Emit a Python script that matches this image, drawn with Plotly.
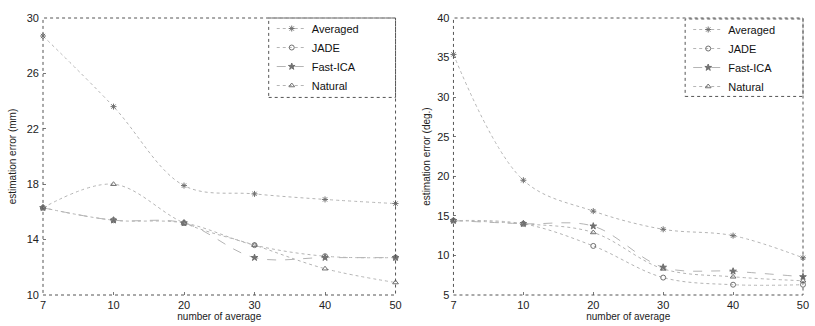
import plotly.graph_objects as go

# ---- data ----
x_labels = ["7", "10", "20", "30", "40", "50"]

# left panel: estimation error (mm)
mm_averaged = [28.7, 23.6, 17.9, 17.3, 16.9, 16.6]
mm_jade = [16.3, 15.4, 15.2, 13.6, 12.8, 12.7]
mm_fastica = [16.3, 15.4, 15.2, 12.7, 12.7, 12.7]
mm_natural = [16.3, 18.0, 15.2, 13.6, 11.9, 10.9]

# right panel: estimation error (deg.)
deg_averaged = [35.4, 19.5, 15.6, 13.3, 12.5, 9.7]
deg_jade = [14.4, 14.0, 11.2, 7.2, 6.3, 6.3]
deg_fastica = [14.4, 14.0, 13.7, 8.5, 8.0, 7.3]
deg_natural = [14.4, 14.0, 12.9, 8.3, 7.3, 6.8]

mm_ticks = [10, 14, 18, 22, 26, 30]
deg_ticks = [5, 10, 15, 20, 25, 30, 35, 40]

series_names = ["Averaged", "JADE", "Fast-ICA", "Natural"]

FONT = "Liberation Sans, Arial, sans-serif"
LINE_C = "#b4b4b4"
MARK_C = "#707070"

styles = {
    "Averaged": dict(dash="dot", symbol="asterisk-open"),
    "JADE": dict(dash="dot", symbol="circle-open"),
    "Fast-ICA": dict(dash="dash", symbol="star"),
    "Natural": dict(dash="dot", symbol="triangle-up-open"),
}

W, H = 815, 326
ML, MR, MT, MB = 42, 12, 16, 31
PW = W - ML - MR
PH = H - MT - MB


def xdom(px0, px1):
    return [(px0 - ML) / PW, (px1 - ML) / PW]


dom1 = xdom(42, 395)
dom2 = xdom(453, W - MR)

fig = go.Figure()

left = [mm_averaged, mm_jade, mm_fastica, mm_natural]
right = [deg_averaged, deg_jade, deg_fastica, deg_natural]

for xa, ya, data, leg in [("x", "y", left, "legend"), ("x2", "y2", right, "legend2")]:
    for name, ys in zip(series_names, data):
        st = styles[name]
        fig.add_trace(
            go.Scatter(
                x=x_labels, y=ys, name=name, mode="lines+markers", xaxis=xa, yaxis=ya,
                line=dict(color=LINE_C, width=1, dash=st["dash"], shape="spline", smoothing=1.0),
                marker=dict(symbol=st["symbol"], size=5, color=MARK_C,
                            line=dict(color=MARK_C, width=1)),
                cliponaxis=False, legend=leg,
            )
        )

axis_common = dict(
    showline=False, showgrid=False, zeroline=False, ticks="inside", ticklen=3,
    tickcolor="#777", tickfont=dict(family=FONT, size=11, color="#222"),
    title_font=dict(family=FONT, size=10, color="#222"),
)
x_common = dict(axis_common, type="category", categoryorder="array",
                categoryarray=x_labels, range=[0, 5], title_text="number of average",
                title_standoff=1, ticklabelstandoff=2, automargin=False)

fig.update_layout(
    xaxis=dict(x_common, domain=dom1, anchor="y"),
    xaxis2=dict(x_common, domain=dom2, anchor="y2"),
    yaxis=dict(axis_common, domain=[0, 1], anchor="x", range=[10, 30], tickvals=mm_ticks,
               title_text="estimation error (mm)", title_standoff=8, ticklabelstandoff=3),
    yaxis2=dict(axis_common, domain=[0, 1], anchor="x2", range=[5, 40], tickvals=deg_ticks,
                title_text="estimation error (deg.)", title_standoff=4, ticklabelstandoff=3),
)

# dotted frames around the plot areas
for xr, yr in [("x domain", "y domain"), ("x2 domain", "y2 domain")]:
    fig.add_shape(type="rect", xref=xr, yref=yr, x0=0, x1=1, y0=0, y1=1,
                  line=dict(color="#555", width=1, dash="dot"), layer="above")

# dotted legend boxes (pixel positions from the reference)
def ydom(py):
    return (MT + PH - py) / PH


def xin(dom, px):
    return ((px - ML) / PW - dom[0]) / (dom[1] - dom[0])


fig.add_shape(type="rect", xref="x domain", yref="y domain",
              x0=xin(dom1, 268), x1=1.0, y0=ydom(96), y1=ydom(16),
              line=dict(color="#555", width=1, dash="dot"), fillcolor="white", layer="below")
fig.add_shape(type="rect", xref="x2 domain", yref="y2 domain",
              x0=xin(dom2, 685), x1=1.0, y0=ydom(95), y1=ydom(17),
              line=dict(color="#555", width=1, dash="dot"), fillcolor="white", layer="below")

leg_common = dict(font=dict(family=FONT, size=11, color="#111"), bgcolor="rgba(0,0,0,0)",
                  borderwidth=0, tracegroupgap=0, itemwidth=30, yanchor="top", xanchor="left")

fig.update_layout(
    width=W, height=H,
    margin=dict(l=ML, r=MR, t=MT, b=MB),
    paper_bgcolor="white", plot_bgcolor="white",
    legend=dict(leg_common, x=(268 - ML) / PW + 0.004, y=ydom(12)),
    legend2=dict(leg_common, x=(685 - ML) / PW + 0.004, y=ydom(13)),
    font=dict(family=FONT),
)

fig.write_html(
    "out.html",
    config={"displayModeBar": False},
    post_script="document.body.style.margin='0';document.body.style.padding='0';",
)
